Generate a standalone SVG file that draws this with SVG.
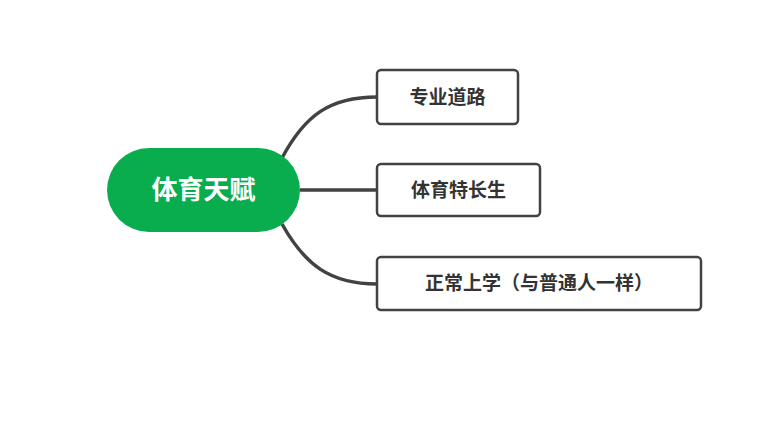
<svg xmlns="http://www.w3.org/2000/svg" width="776" height="423" viewBox="0 0 776 423">
<style>
.box{fill:#fff;stroke:#424242;stroke-width:2.5}
.t{font-family:"Noto Sans CJK SC",sans-serif;font-weight:bold;font-size:19px;fill:#333}
.c{fill:none;stroke:#424242;stroke-width:3.5}
</style>
<rect width="776" height="423" fill="#fff"/>
<g id="connectors">
<path class="c" d="M282,158 C305,115 330,97 377,97"/>
<path class="c" d="M300,190 L377,190"/>
<path class="c" d="M282,224 C305,265 330,284 377,284"/>
</g>
<g id="root">
<rect x="107" y="148" width="193" height="84" rx="42" fill="#0aad4e"/>
<text x="203.5" y="199" text-anchor="middle" font-family="Noto Sans CJK SC,sans-serif" font-weight="bold" font-size="26" fill="#fff">体育天赋</text>
</g>
<g id="n1"><rect class="box" x="377" y="70" width="141" height="54" rx="4"/><text class="t" x="447.5" y="104" text-anchor="middle">专业道路</text></g>
<g id="n2"><rect class="box" x="377" y="164" width="163" height="52" rx="4"/><text class="t" x="458.5" y="197" text-anchor="middle">体育特长生</text></g>
<g id="n3"><rect class="box" x="377" y="257" width="324" height="53" rx="4"/><text class="t" x="539" y="290" text-anchor="middle">正常上学（与普通人一样）</text></g>
</svg>
